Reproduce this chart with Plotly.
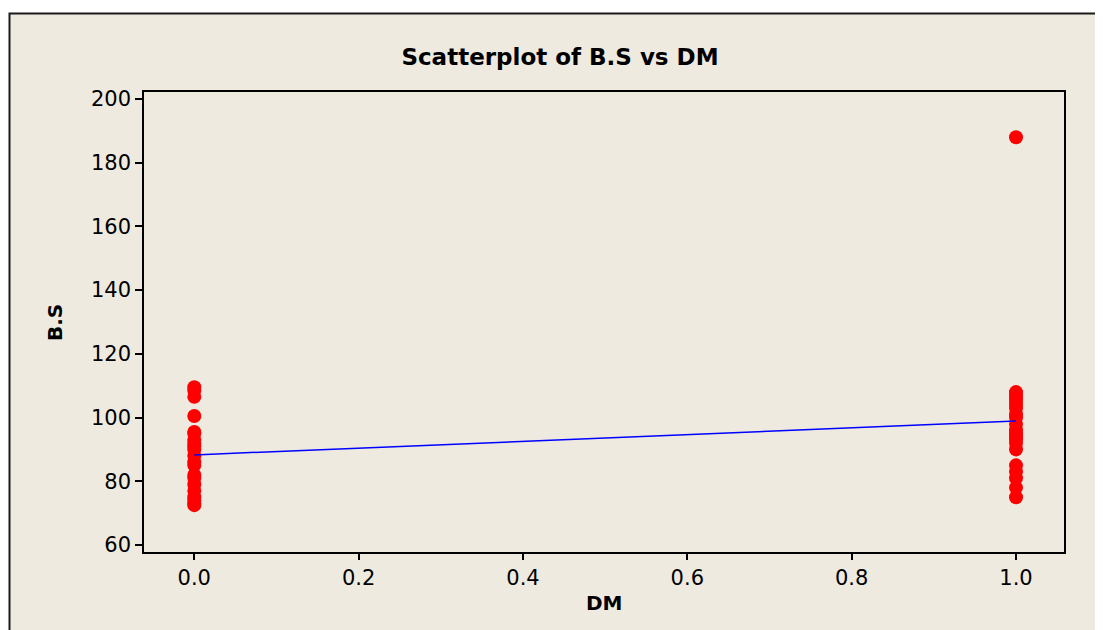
import numpy as np
import plotly.graph_objects as go

# Data
dm0_bs = [109.5, 108.5, 106.5, 100.5, 95.5, 95, 93, 92, 91, 90, 88, 86, 85, 82, 81, 79, 77, 75, 74, 73, 72.5]
dm1_bs = [188, 108, 107, 106, 105, 104, 103, 101, 100, 98, 96, 95, 94, 94, 93, 92, 90, 85, 83, 81, 78, 75]

dm = [0.0] * len(dm0_bs) + [1.0] * len(dm1_bs)
bs = dm0_bs + dm1_bs

x_ticks = [0.0, 0.2, 0.4, 0.6, 0.8, 1.0]
y_ticks = [60, 80, 100, 120, 140, 160, 180, 200]

slope, intercept = np.polyfit(dm, bs, 1)
fit_x = [0.0, 1.0]
fit_y = [intercept + slope * v for v in fit_x]

fig = go.Figure()
fig.add_trace(go.Scatter(x=dm, y=bs, mode="markers",
                         marker=dict(color="#ff0000", size=14, line=dict(width=0)),
                         showlegend=False))
fig.add_trace(go.Scatter(x=fit_x, y=fit_y, mode="lines",
                         line=dict(color="#0000ff", width=1.5), showlegend=False))

# page body has an 8px margin: work in figure pixels = screen pixels - 8
OFF = 8
W, H = 1095, 622
L, T = 144 - OFF, 92 - OFF
R = W - (1064 - OFF)
B = H - (552 - OFF)
pw, ph = W - L - R, H - T - B

def px2x(p):
    return (p - OFF - L) / pw

def px2y(p):
    return (H - B - (p - OFF)) / ph

fig.add_shape(type="rect", xref="paper", yref="paper",
              x0=px2x(9.5), x1=px2x(1130), y0=px2y(13.5), y1=px2y(660),
              fillcolor="#eeeae0", line=dict(color="#1a1a1a", width=2), layer="below")

font = "DejaVu Sans, Verdana, sans-serif"
fig.add_annotation(text="<b>B.S</b>", xref="paper", yref="paper", x=px2x(55), y=px2y(323),
                   xanchor="center", yanchor="middle", textangle=-90, showarrow=False,
                   font=dict(family=font, size=20, color="black"))
fig.add_annotation(text="<b>DM</b>", xref="paper", yref="paper", x=px2x(604), y=px2y(603),
                   xanchor="center", yanchor="middle", showarrow=False,
                   font=dict(family=font, size=20, color="black"))

fig.update_layout(
    width=W, height=H,
    margin=dict(l=L, r=R, t=T, b=B, pad=0),
    paper_bgcolor="white", plot_bgcolor="white",
    title=dict(text="<b>Scatterplot of B.S vs DM</b>", x=(560 - OFF) / W, xanchor="center",
               y=1 - (57 - OFF) / H, yanchor="middle", font=dict(family=font, size=23, color="black")),
    xaxis=dict(range=[-0.0612, 1.0584], tickvals=x_ticks, ticktext=[f"{v:.1f}" for v in x_ticks],
               showgrid=False, zeroline=False, showline=True, linecolor="black", linewidth=1.5,
               mirror=True, ticks="outside", ticklen=6, tickcolor="black", tickwidth=1.5,
               tickfont=dict(family=font, size=21, color="black")),
    yaxis=dict(range=[57.8, 202.2], tickvals=y_ticks,
               showgrid=False, zeroline=False, showline=True, linecolor="black", linewidth=1.5,
               mirror=True, ticks="outside", ticklen=7, tickcolor="black", tickwidth=1.5,
               tickfont=dict(family=font, size=21, color="black")),
)

fig.write_html("out.html")
